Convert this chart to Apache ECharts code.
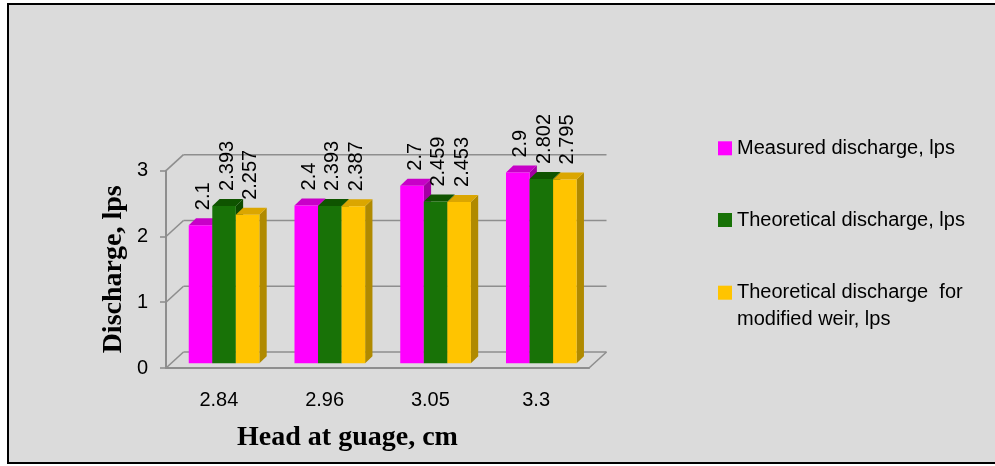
<!DOCTYPE html>
<html>
<head>
<meta charset="utf-8">
<script src="https://cdn.jsdelivr.net/npm/echarts@6/dist/echarts.min.js"></script>
<style>
  html, body { margin: 0; padding: 0; background: #ffffff; }
  #chart { width: 995px; height: 466px; }
</style>
</head>
<body>
<div id="chart"></div>
<script>
// Head at gauge (cm) on the category axis
const categories = ['2.84', '2.96', '3.05', '3.3'];
// Discharge values (lps)
const measured = [2.1, 2.4, 2.7, 2.9];
const theoretical = [2.393, 2.393, 2.459, 2.802];
const modifiedWeir = [2.257, 2.387, 2.453, 2.795];
// Value-axis ticks
const yTicks = [0, 1, 2, 3];

const seriesNames = [
  'Measured discharge, lps',
  'Theoretical discharge, lps',
  'Theoretical discharge  for\nmodified weir, lps'
];

// Faux-3D geometry (pixels)
const WALL_DEPTH = [17.5, -16];   // front plane -> back wall
const BAR_OFFSET = [5.2, -4.7];   // front plane -> bar front faces
const BAR_DEPTH = [7.3, -7];      // bar front face -> bar back face
const BAR_FRACTION = 0.2227;      // bar width as a share of the category band

const faceColors = [
  { front: '#ff00ff', top: '#c800c8', side: '#a300a3' },
  { front: '#187207', top: '#0f5400', side: '#0d4a00' },
  { front: '#ffc400', top: '#dba600', side: '#b08a00' }
];

const LINE_COLOR = '#8e8e8e';
const SANS = '"Liberation Sans", Arial, sans-serif';
const SERIF = '"Liberation Serif", "Times New Roman", serif';

function toPairs(values) {
  return values.map(function (v, i) { return [i, v]; });
}

// Draws one series as prism-shaped columns with an upright value label.
function makeBarRenderer(seriesIndex) {
  const col = faceColors[seriesIndex];
  return function (params, api) {
    const cat = api.value(0);
    const val = api.value(1);
    const base = api.coord([cat, 0]);
    const top = api.coord([cat, val]);
    const band = api.size([1, 0])[0];
    const w = band * BAR_FRACTION;
    const x0 = base[0] + (seriesIndex - 1.5) * w + BAR_OFFSET[0];
    const x1 = x0 + w;
    const yb = base[1] + BAR_OFFSET[1];
    const yt = top[1] + BAR_OFFSET[1];
    const dx = BAR_DEPTH[0], dy = BAR_DEPTH[1];
    return {
      type: 'group',
      children: [
        {
          type: 'polygon',
          shape: { points: [[x1, yt], [x1 + dx, yt + dy], [x1 + dx, yb + dy], [x1, yb]] },
          style: { fill: col.side }
        },
        {
          type: 'polygon',
          shape: { points: [[x0, yt], [x1, yt], [x1 + dx, yt + dy], [x0 + dx, yt + dy]] },
          style: { fill: col.top }
        },
        {
          type: 'rect',
          shape: { x: x0, y: yt, width: w, height: yb - yt },
          style: { fill: col.front }
        },
        {
          type: 'text',
          x: (x0 + x1) / 2 + 3,
          y: yt - 15,
          rotation: Math.PI / 2,
          style: {
            text: String(val),
            fill: '#000000',
            font: '20px ' + SANS,
            align: 'left',
            verticalAlign: 'middle'
          }
        }
      ]
    };
  };
}

// Back-wall gridlines, side-wall diagonals and the floor edge.
function renderFrame(params, api) {
  const v = api.value(0);
  const cs = params.coordSys;
  const y = api.coord([0, v])[1];
  const xl = cs.x, xr = cs.x + cs.width;
  const dx = WALL_DEPTH[0], dy = WALL_DEPTH[1];
  const lineStyle = { stroke: LINE_COLOR, lineWidth: 1.6, fill: null };
  const children = [
    { type: 'line', shape: { x1: xl + dx, y1: y + dy, x2: xr + dx, y2: y + dy }, style: lineStyle },
    { type: 'line', shape: { x1: xl, y1: y, x2: xl + dx, y2: y + dy }, style: lineStyle }
  ];
  if (v === 0) {
    children.push({ type: 'line', shape: { x1: xr, y1: y, x2: xr + dx, y2: y + dy }, style: lineStyle });
  }
  return { type: 'group', children: children };
}

const chart = echarts.init(document.getElementById('chart'), null, { renderer: 'canvas' });

const legendText = { color: '#000000', fontFamily: SANS, fontSize: 20, lineHeight: 27 };

chart.setOption({
  backgroundColor: '#ffffff',
  animation: false,
  graphic: [{
    type: 'rect',
    z: -100,
    silent: true,
    shape: { x: 8, y: 4, width: 1000, height: 459 },
    style: { fill: '#dbdbdb', stroke: '#000000', lineWidth: 2 }
  }],
  grid: { left: 166, right: 406, top: 170.7, bottom: 98 },
  legend: [
    {
      data: [seriesNames[0]], left: 718, top: 134.8, padding: 0,
      icon: 'rect', itemWidth: 14, itemHeight: 14, textStyle: legendText
    },
    {
      data: [seriesNames[1]], left: 718, top: 206.5, padding: 0,
      icon: 'rect', itemWidth: 14, itemHeight: 14, textStyle: legendText
    },
    {
      // leading blank line keeps the swatch level with the first text line
      data: [seriesNames[2]], left: 718, top: 252.2, padding: 0,
      icon: 'rect', itemWidth: 14, itemHeight: 14, textStyle: legendText,
      formatter: function (name) { return '\n' + name; }
    }
  ],
  xAxis: {
    type: 'category',
    data: categories,
    axisLine: { show: true, lineStyle: { color: LINE_COLOR, width: 2 } },
    axisTick: { show: false },
    axisLabel: { color: '#000000', fontFamily: SANS, fontSize: 20, margin: 22 },
    name: 'Head at guage, cm',
    nameLocation: 'middle',
    nameGap: 56,
    nameTextStyle: {
      color: '#000000', fontFamily: SERIF, fontWeight: 'bold', fontSize: 28,
      padding: [0, 60, 0, 0]
    }
  },
  yAxis: {
    type: 'value',
    min: 0,
    max: 3,
    interval: 1,
    axisLine: { show: true, lineStyle: { color: LINE_COLOR, width: 2 } },
    axisTick: { show: true, inside: false, length: 6, lineStyle: { color: LINE_COLOR, width: 1.6 } },
    splitLine: { show: false },
    axisLabel: {
      color: '#000000', fontFamily: SANS, fontSize: 20, margin: 18,
      formatter: function (v) { return yTicks.indexOf(v) >= 0 ? String(v) : ''; }
    },
    name: 'Discharge, lps',
    nameLocation: 'middle',
    nameGap: 38,
    nameTextStyle: { color: '#000000', fontFamily: SERIF, fontWeight: 'bold', fontSize: 28 }
  },
  series: [
    {
      type: 'custom',
      name: 'frame',
      silent: true,
      z: 1,
      data: yTicks.map(function (v) { return [v]; }),
      encode: { y: 0 },
      renderItem: renderFrame
    },
    {
      type: 'custom', name: seriesNames[0], z: 3,
      itemStyle: { color: faceColors[0].front },
      data: toPairs(measured), encode: { x: 0, y: 1 },
      renderItem: makeBarRenderer(0)
    },
    {
      type: 'custom', name: seriesNames[1], z: 4,
      itemStyle: { color: faceColors[1].front },
      data: toPairs(theoretical), encode: { x: 0, y: 1 },
      renderItem: makeBarRenderer(1)
    },
    {
      type: 'custom', name: seriesNames[2], z: 5,
      itemStyle: { color: faceColors[2].front },
      data: toPairs(modifiedWeir), encode: { x: 0, y: 1 },
      renderItem: makeBarRenderer(2)
    }
  ]
});
</script>
</body>
</html>
